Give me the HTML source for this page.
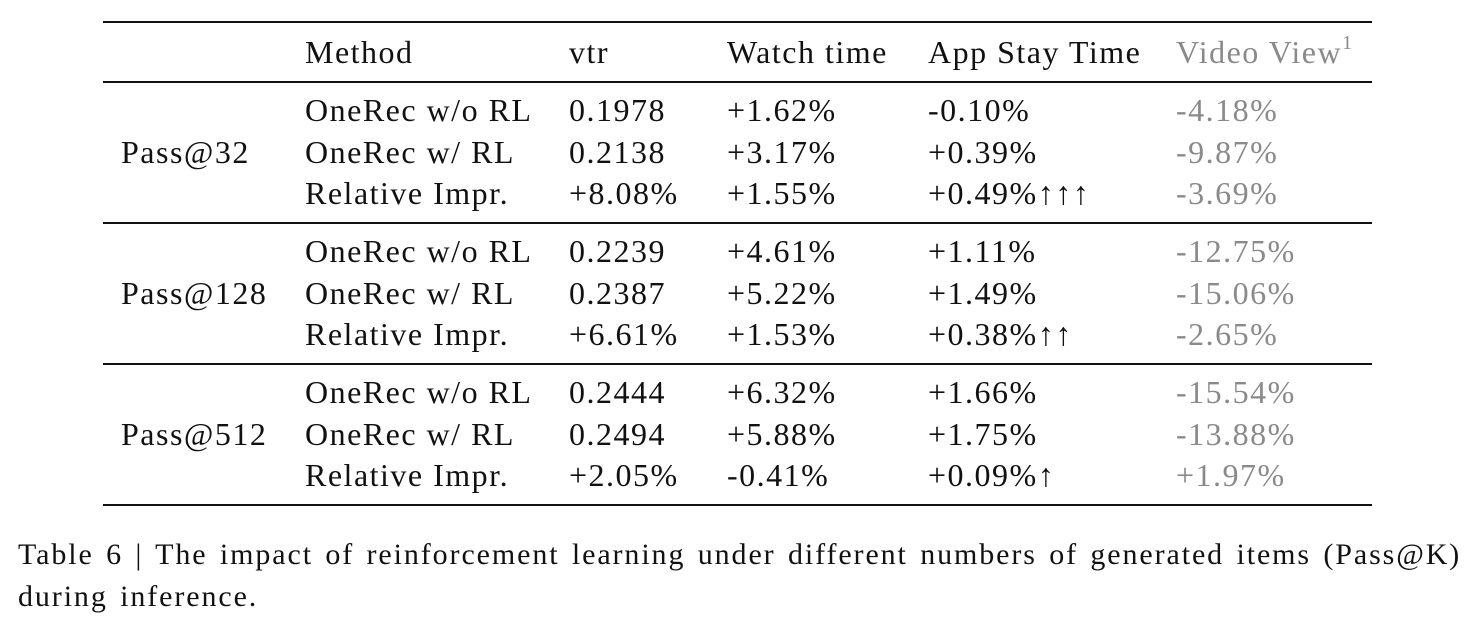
<!DOCTYPE html>
<html><head><meta charset="utf-8"><style>
body{margin:0;width:1477px;height:616px;background:#fff;position:relative;overflow:hidden;font-family:"Liberation Serif",serif;color:#111}
.c{position:absolute;font-size:32px;line-height:40px;white-space:nowrap;letter-spacing:1.5px}
.g{color:#8a8a8a}
sup{font-size:20px;line-height:0;vertical-align:0;position:relative;top:-14px}
.r{position:absolute;left:103px;width:1269px;background:#111}
.cap{position:absolute;left:18px;font-size:30px;line-height:42px;white-space:nowrap;letter-spacing:1.9px;word-spacing:3px}
</style></head><body>
<div class="r" style="top:21px;height:2px"></div>
<div class="r" style="top:81px;height:1.5px"></div>
<div class="r" style="top:222px;height:1.5px"></div>
<div class="r" style="top:363px;height:1.5px"></div>
<div class="r" style="top:504px;height:2px"></div>
<div id="t"></div>
<div class="cap" style="top:534px">Table 6 | The impact of reinforcement learning under different numbers of generated items (Pass@K)<br>during inference.</div>
<script>
const cols=[305,569,727,928,1176];
const header=["Method","vtr","Watch time","App Stay Time","Video View<sup>1</sup>"];
const groups=["Pass@32","Pass@128","Pass@512"];
const rows=[
["OneRec w/o RL","0.1978","+1.62%","-0.10%","-4.18%"],
["OneRec w/ RL","0.2138","+3.17%","+0.39%","-9.87%"],
["Relative Impr.","+8.08%","+1.55%","+0.49%↑↑↑","-3.69%"],
["OneRec w/o RL","0.2239","+4.61%","+1.11%","-12.75%"],
["OneRec w/ RL","0.2387","+5.22%","+1.49%","-15.06%"],
["Relative Impr.","+6.61%","+1.53%","+0.38%↑↑","-2.65%"],
["OneRec w/o RL","0.2444","+6.32%","+1.66%","-15.54%"],
["OneRec w/ RL","0.2494","+5.88%","+1.75%","-13.88%"],
["Relative Impr.","+2.05%","-0.41%","+0.09%↑","+1.97%"]];
const rowY=[110,152,193,251,293,334,392,434,475];
const t=document.getElementById('t');
function cell(x,y,html,grey,name){const d=document.createElement('div');d.className='c'+(grey?' g':'');d.style.left=x+'px';d.style.top=(y-20)+'px';d.innerHTML=html;


t.appendChild(d);}
header.forEach((h,i)=>cell(cols[i],52,h,i==4,'header-'+i));
groups.forEach((g,i)=>cell(121,rowY[i*3+1],g,false,'group-label-'+i));
rows.forEach((r,j)=>r.forEach((v,i)=>cell(cols[i],rowY[j],v,i==4,'cell-r'+j+'-c'+i)));
</script>
</body></html>
